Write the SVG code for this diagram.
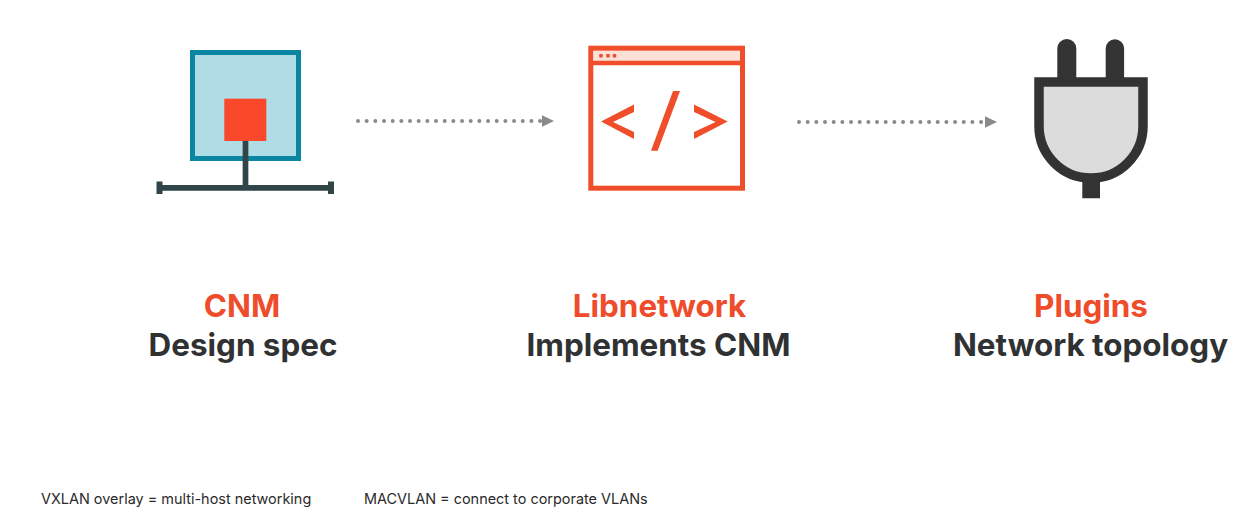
<svg xmlns="http://www.w3.org/2000/svg" width="1258" height="513" viewBox="0 0 1258 513">
<style>
.h{font-family:"Inter","Lato","Liberation Sans",sans-serif;font-weight:700;font-size:31.4px;text-anchor:middle}
.o{fill:#ee4c2b}
.d{fill:#2f3133}
.n{font-family:"Inter","Liberation Sans",sans-serif;font-size:14.45px;fill:#2a2a2a}
.dots{fill:none;stroke:#8a8a8a;stroke-width:4;stroke-linecap:round;stroke-dasharray:0 8.67}
</style>
<defs>
<marker id="arrow" markerUnits="userSpaceOnUse" markerWidth="13" markerHeight="13" refX="0" refY="6.5" orient="auto"><path d="M0 0.5L12.5 6.5L0 12.5Z" fill="#8a8a8a"/></marker>
</defs>
<rect width="1258" height="513" fill="#fff"/>
<g id="connectors">
<path class="dots" d="M358 121H541.500" marker-end="url(#arrow)"/>
<path class="dots" d="M799 122H984.500" marker-end="url(#arrow)"/>
</g>
<g id="cnm">
<rect x="192.500" y="52.500" width="106" height="106" fill="#b0dce6" stroke="#0a86a3" stroke-width="5"/>
<rect x="224.300" y="98.700" width="42" height="42.300" fill="#f9482a"/>
<path d="M245.500 141V188M158 187.800H333" stroke="#2f4548" stroke-width="5.700" fill="none"/>
<path d="M159.500 181.500V194M331 181.500V194" stroke="#2f4548" stroke-width="6" fill="none"/>
<text class="h o" x="242" y="316.500">CNM</text>
<text class="h d" x="243" y="355.500">Design spec</text>
</g>
<g id="libnetwork">
<rect x="590.800" y="48.200" width="151.700" height="140" fill="#fff" stroke="#f04e2a" stroke-width="5"/>
<rect x="593.300" y="51" width="146.700" height="10" fill="#fde0d8"/>
<path d="M590.800 63H742.500" stroke="#f04e2a" stroke-width="4.500"/>
<circle cx="601" cy="55.700" r="2" fill="#f04e2a"/><circle cx="608" cy="55.700" r="2" fill="#f04e2a"/><circle cx="614.500" cy="55.700" r="2" fill="#f04e2a"/>
<path d="M601 121.500L634 104.500V112L613 122L634 132V139Z M727.700 121.500L694 104.500V112L715.500 122L694 132V139Z M673 91H680L657.700 150.700H651Z" fill="#f04e2a"/>
<text class="h o" x="659.500" y="316.500">Libnetwork</text>
<text class="h d" x="658.500" y="355.500">Implements CNM</text>
</g>
<g id="plugins">
<path d="M1057.300 82V48.500a9.500 9.500 0 0 1 19 0V82Z M1105.700 82V48.500a9.200 9.200 0 0 1 18.400 0V82Z M1082.300 175H1100V198.300H1082.300Z" fill="#333"/>
<path d="M1039 82H1143V126A52 52 0 0 1 1039 126Z" fill="#dcdcdc" stroke="#333" stroke-width="9.500"/>
<text class="h o" x="1091" y="316.500">Plugins</text>
<text class="h d" x="1090.500" y="355.500">Network topology</text>
</g>
<g id="notes">
<text class="n" x="41" y="504">VXLAN overlay = multi-host networking</text>
<text class="n" x="364" y="504">MACVLAN = connect to corporate VLANs</text>
</g>
</svg>
